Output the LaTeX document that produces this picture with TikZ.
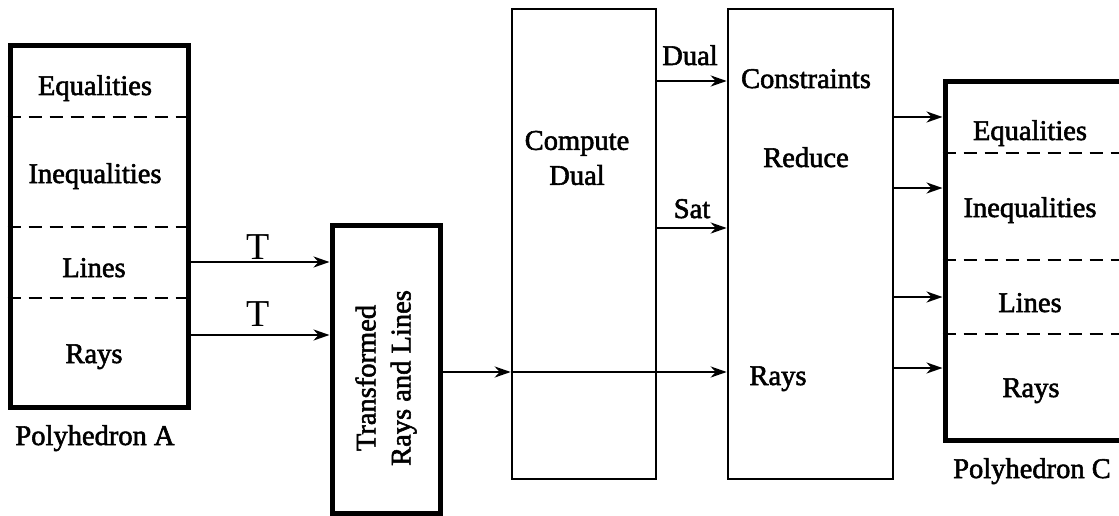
\documentclass[tikz,border=0pt]{standalone}
\usepackage{fontspec}
\setmainfont{Liberation Serif}[FakeBold=2]
\newfontfamily\plainserif{Liberation Serif}
\usetikzlibrary{arrows.meta}
\begin{document}
\begin{tikzpicture}[x=1pt,y=-1pt,
  every node/.style={font=\fontsize{28.5}{35}\selectfont, inner sep=0pt},
  thickbox/.style={draw, line width=5pt},
  thinbox/.style={draw, line width=2.6pt},
  sep/.style={line width=2.6pt, dash pattern=on 13pt off 8pt},
  arr/.style={line width=2.4pt, -{Stealth[length=16pt,width=11pt,inset=5pt]}},
  lbl/.style={anchor=base},
  tlbl/.style={anchor=base, font=\plainserif\fontsize{38}{40}\selectfont}]
\useasboundingbox (0,0) rectangle (1119,516);

% boxes
\node[thickbox, minimum width=178pt, minimum height=361pt] (pA) at (99,226.5) {};
\node[thickbox, minimum width=108pt, minimum height=288pt] (tr) at (386,369) {};
\node[thinbox, minimum width=144pt, minimum height=470pt] (cd) at (584,244) {};
\node[thinbox, minimum width=165pt, minimum height=470pt] (rd) at (810.5,244) {};
\node[thickbox, minimum width=180pt, minimum height=358pt] (pC) at (1035,261) {};

% separators in Polyhedron A
\coordinate (a1) at (0,117);
\coordinate (a2) at (0,227);
\coordinate (a3) at (0,298);
\foreach \c in {a1,a2,a3}
  \draw[sep] (pA.west |- \c) -- (pA.east |- \c);

% separators in Polyhedron C
\coordinate (c1) at (0,153);
\coordinate (c2) at (0,260);
\coordinate (c3) at (0,334);
\foreach \c in {c1,c2,c3}
  \draw[sep] (pC.west |- \c) -- (pC.east |- \c);

% texts
\node[lbl] (aeq) at (95,95) {Equalities};
\node[lbl] (aineq) at (95,183) {Inequalities};
\node[lbl] (alin) at (94,277) {Lines};
\node[lbl] (aray) at (94,363) {Rays};
\node[lbl] (alab) at (95,445) {Polyhedron A};

\node[rotate=90, align=center] (trtext) at (386,378) {Transformed\\Rays and Lines};

\node[align=center] (cdtext) at (577,158) {Compute\\Dual};

\node[lbl] (rcon) at (806,88) {Constraints};
\node[lbl] (rred) at (806,167) {Reduce};
\node[lbl] (rray) at (778,385) {Rays};

\node[lbl] (ceq) at (1030,140) {Equalities};
\node[lbl] (cineq) at (1030,217) {Inequalities};
\node[lbl] (clin) at (1030,312) {Lines};
\node[lbl] (cray) at (1031,397) {Rays};
\node[lbl] (clab) at (1032,478) {Polyhedron C};

% connectors
\coordinate (y1) at (0,262);
\coordinate (y2) at (0,335);
\draw[arr] (pA.east |- y1) -- (tr.west |- y1);
\draw[arr] (pA.east |- y2) -- (tr.west |- y2);
\node[tlbl] (t1) at (258,259) {T};
\node[tlbl] (t2) at (258,326) {T};

\coordinate (y3) at (0,372);
\draw[arr] (tr.east |- y3) -- (cd.west |- y3);
\draw[arr] (cd.west |- y3) -- (rd.west |- y3);

\coordinate (y4) at (0,81);
\coordinate (y5) at (0,228);
\draw[arr] (cd.east |- y4) -- (rd.west |- y4);
\draw[arr] (cd.east |- y5) -- (rd.west |- y5);
\node[lbl] (ldual) at (690,65) {Dual};
\node[lbl] (lsat) at (692,218) {Sat};

\foreach \yy [count=\i] in {117,188,297,368}{
  \coordinate (o\i) at (0,\yy);
  \draw[arr] (rd.east |- o\i) -- (pC.west |- o\i);
}
\end{tikzpicture}
\end{document}
